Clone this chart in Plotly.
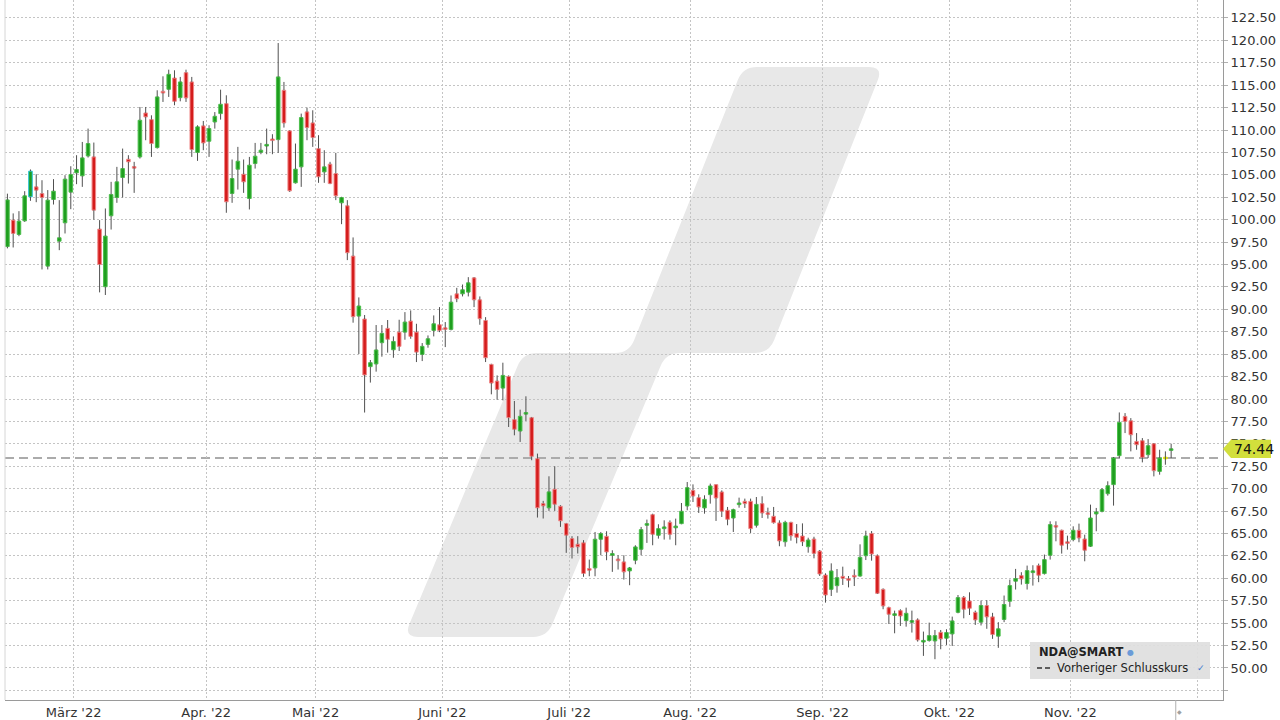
import plotly.graph_objects as go
import pandas as pd

# ---------------- data ----------------
open_ = [97.0, 99.95, 98.35, 99.87, 102.55, 103.66, 102.92, 94.82, 102.25, 97.6,
         99.65, 103.07, 105.22, 104.89, 107.11, 107.0, 98.95, 92.52, 100.43, 102.47,
         104.7, 106.74, 105.89, 107.0, 111.9, 111.16, 108.04, 114.32, 114.54, 115.8,
         113.61, 116.4, 115.36, 107.49, 110.46, 108.75, 110.9, 111.83, 112.94, 102.92,
         105.63, 105.07, 102.36, 106.26, 107.52, 108.23, 109.0, 108.93, 114.43, 109.9,
         104.11, 105.89, 112.02, 110.79, 107.93, 105.33, 106.19, 105.15, 101.88, 101.55,
         95.94, 89.25, 88.92, 83.61, 83.91, 86.28, 87.88, 85.49, 87.46, 87.46,
         88.69, 87.46, 84.97, 86.09, 87.65, 88.28, 87.94, 87.76, 91.73, 91.73,
         91.92, 93.51, 91.06, 88.76, 83.86, 82.0, 81.22, 82.52, 77.7, 76.43,
         78.33, 77.92, 73.35, 68.34, 67.86, 69.94, 68.04, 66.11, 64.44, 63.81,
         63.96, 61.09, 61.16, 64.36, 64.69, 62.57, 62.13, 61.83, 60.83, 62.02,
         63.24, 65.92, 67.1, 64.8, 65.54, 66.25, 65.66, 66.1, 68.07, 69.81,
         69.0, 67.85, 69.33, 70.45, 69.63, 67.59, 66.73, 68.22, 68.59, 68.59,
         65.92, 68.33, 67.29, 66.92, 66.18, 64.08, 66.24, 65.01, 64.72, 63.53,
         64.38, 63.04, 60.37, 58.77, 59.18, 60.22, 59.96, 60.33, 60.26, 62.52,
         65.01, 62.52, 58.77, 56.73, 55.88, 56.4, 55.28, 55.13, 55.36, 52.91,
         53.06, 53.02, 53.98, 53.32, 53.8, 56.21, 57.88, 57.47, 56.21, 55.11,
         56.97, 55.7, 53.55, 55.41, 57.45, 59.68, 60.31, 59.42, 60.64, 61.42,
         60.53, 62.57, 65.88, 65.36, 64.06, 64.32, 65.36, 64.39, 63.58, 67.18,
         67.47, 69.44, 70.45, 73.68, 78.06, 77.57, 75.27, 75.35, 73.79, 75.01,
         71.93, 73.42, 74.27]
high = [102.9, 100.7, 100.95, 103.18, 105.6, 105.07, 104.4, 103.3, 104.52, 102.18,
        104.96, 105.96, 107.19, 108.67, 110.16, 108.6, 99.95, 101.25, 104.22, 105.89,
        107.93, 107.19, 106.45, 112.57, 112.57, 111.64, 114.43, 115.99, 116.73, 116.66,
        115.92, 116.73, 115.92, 110.53, 111.01, 110.53, 112.0, 114.5, 113.87, 106.71,
        108.12, 106.71, 107.0, 108.56, 108.56, 110.16, 109.53, 119.7, 115.36, 109.97,
        108.49, 111.83, 112.5, 112.2, 109.42, 107.75, 106.45, 107.45, 102.55, 102.18,
        98.02, 91.33, 89.37, 84.35, 88.25, 88.25, 88.81, 86.98, 88.84, 89.69,
        89.88, 88.39, 86.24, 87.09, 89.32, 90.25, 88.58, 91.55, 92.4, 92.77,
        93.59, 93.59, 91.44, 89.13, 83.93, 82.63, 84.05, 82.63, 79.78, 78.81,
        80.3, 78.0, 73.91, 68.64, 71.38, 72.5, 68.15, 66.18, 64.7, 64.7,
        64.26, 62.09, 65.17, 65.17, 65.25, 63.13, 62.57, 62.57, 61.27, 63.69,
        65.73, 66.55, 67.21, 66.03, 66.47, 66.47, 66.66, 68.4, 70.74, 70.48,
        69.37, 69.26, 70.56, 70.48, 69.81, 67.96, 67.77, 69.0, 68.89, 68.89,
        69.07, 69.15, 67.88, 67.96, 66.47, 66.42, 66.31, 66.05, 66.13, 64.53,
        64.64, 63.16, 60.56, 61.67, 61.04, 61.3, 60.26, 61.0, 63.79, 65.31,
        65.27, 62.67, 58.88, 56.84, 56.4, 56.55, 56.73, 56.4, 55.54, 54.06,
        55.06, 54.24, 54.24, 54.32, 55.73, 58.14, 58.03, 58.44, 56.4, 57.52,
        57.56, 56.15, 55.11, 58.08, 59.86, 61.05, 60.68, 61.42, 61.46, 61.64,
        62.65, 66.36, 66.36, 65.43, 64.76, 65.8, 66.1, 64.87, 68.22, 67.85,
        70.07, 70.82, 73.53, 78.5, 78.43, 77.87, 76.2, 75.64, 75.53, 75.09,
        74.34, 74.16, 75.01]
low = [96.8, 96.9, 98.16, 99.76, 102.1, 101.95, 94.45, 94.45, 101.69, 96.6,
       98.46, 101.17, 103.96, 103.66, 106.93, 100.0, 91.89, 91.6, 98.9, 101.88,
       102.47, 104.03, 102.99, 106.82, 108.86, 107.0, 107.93, 113.13, 113.69, 112.76,
       113.2, 113.13, 107.0, 106.56, 107.75, 107.0, 110.16, 111.16, 100.77, 101.88,
       103.36, 102.99, 101.14, 105.7, 107.3, 107.3, 107.3, 107.45, 110.27, 103.1,
       104.03, 103.66, 108.86, 108.12, 104.11, 104.11, 103.96, 102.18, 99.5, 95.49,
       88.51, 85.02, 78.49, 81.83, 83.05, 84.72, 85.17, 84.6, 85.35, 86.61,
       86.72, 84.12, 84.23, 85.72, 86.98, 87.46, 85.79, 87.65, 90.8, 91.44,
       91.44, 90.25, 88.28, 84.12, 80.52, 79.92, 79.85, 76.88, 75.95, 75.21,
       77.55, 73.17, 66.78, 66.67, 67.52, 67.52, 65.74, 62.84, 62.21, 62.77,
       60.17, 60.23, 60.23, 62.57, 62.02, 60.72, 60.98, 59.86, 59.23, 61.57,
       62.57, 63.95, 63.69, 64.43, 64.32, 64.32, 63.69, 66.03, 67.59, 68.51,
       67.29, 67.21, 68.33, 66.4, 66.84, 65.92, 65.17, 67.88, 67.85, 65.06,
       65.66, 66.73, 66.66, 66.1, 63.58, 63.53, 64.2, 63.9, 63.6, 62.86,
       62.23, 60.26, 57.29, 58.03, 58.4, 59.26, 58.99, 59.14, 60.18, 62.04,
       61.97, 58.25, 56.55, 54.91, 53.87, 54.69, 54.61, 53.95, 52.94, 51.35,
       52.94, 50.98, 52.09, 52.57, 52.46, 56.1, 55.54, 55.91, 54.8, 54.74,
       54.37, 53.25, 52.25, 55.11, 56.82, 58.75, 59.3, 58.75, 59.19, 59.57,
       60.42, 62.09, 64.13, 62.76, 63.2, 64.13, 64.02, 61.9, 63.5, 65.25,
       67.36, 69.22, 68.11, 73.42, 76.2, 74.16, 74.34, 72.93, 73.42, 71.37,
       71.56, 72.67, 73.42]
close = [102.2, 98.46, 99.84, 102.66, 105.41, 103.29, 102.47, 102.18, 103.18, 97.98,
         104.52, 105.04, 105.6, 106.89, 108.49, 101.06, 95.0, 98.17, 102.81, 104.22,
         105.7, 106.45, 105.78, 111.09, 111.46, 108.49, 113.69, 114.13, 116.21, 113.2,
         115.36, 113.58, 107.82, 110.35, 108.56, 110.16, 111.53, 112.87, 101.99, 104.59,
         106.52, 104.22, 106.08, 107.08, 107.75, 108.38, 108.82, 115.92, 110.79, 103.22,
         105.63, 111.39, 110.27, 109.16, 104.78, 105.89, 104.03, 102.66, 102.47, 96.31,
         89.18, 90.37, 82.68, 84.05, 85.47, 87.32, 86.66, 86.42, 85.87, 88.58,
         86.98, 85.23, 85.87, 86.72, 88.39, 87.65, 87.76, 90.8, 91.18, 92.18,
         92.96, 91.06, 88.95, 84.6, 81.78, 81.07, 82.63, 77.92, 76.62, 78.07,
         78.48, 73.61, 67.86, 68.08, 69.64, 68.26, 66.41, 64.81, 63.44, 63.51,
         60.54, 60.9, 64.36, 64.99, 62.94, 62.76, 61.98, 60.72, 61.16, 63.5,
         65.43, 66.1, 64.91, 65.54, 65.73, 64.91, 65.8, 67.48, 70.11, 69.18,
         67.96, 68.81, 70.3, 68.96, 67.48, 66.58, 67.66, 68.4, 68.33, 65.54,
         68.25, 67.29, 67.14, 66.21, 64.17, 66.24, 64.75, 64.57, 64.08, 64.27,
         62.78, 60.48, 58.14, 60.82, 60.07, 60.0, 59.78, 60.15, 62.34, 64.72,
         62.71, 58.33, 56.92, 55.99, 56.03, 55.8, 56.1, 55.25, 53.13, 53.06,
         53.61, 53.61, 53.24, 53.95, 55.25, 57.85, 56.55, 56.66, 55.36, 56.97,
         55.7, 53.73, 54.37, 57.08, 59.19, 59.97, 59.94, 60.86, 60.83, 60.34,
         62.09, 65.99, 65.73, 63.69, 63.91, 65.36, 64.5, 63.13, 66.73, 67.4,
         69.89, 70.33, 73.42, 77.39, 77.5, 76.01, 74.9, 73.49, 74.79, 72.0,
         73.42, 73.42, 74.44]

first_day = "2022-02-11"
exchange_holidays = ["2022-04-15", "2022-04-18", "2022-12-26"]
month_starts = ["2022-03-01", "2022-04-01", "2022-05-01", "2022-06-01", "2022-07-01",
                "2022-08-01", "2022-09-01", "2022-10-01", "2022-11-01", "2022-12-01"]
month_labels = ["März '22", "Apr. '22", "Mai '22", "Juni '22", "Juli '22",
                "Aug. '22", "Sep. '22", "Okt. '22", "Nov. '22", ""]
y_ticks = [47.5, 50.0, 52.5, 55.0, 57.5, 60.0, 62.5, 65.0, 67.5, 70.0, 72.5, 75.0,
           77.5, 80.0, 82.5, 85.0, 87.5, 90.0, 92.5, 95.0, 97.5, 100.0, 102.5, 105.0,
           107.5, 110.0, 112.5, 115.0, 117.5, 120.0, 122.5]
symbol_name = "NDA@SMART"
prev_close_name = "Vorheriger Schlusskurs"
highlight_candle = 4  # candle drawn with a cyan outline in the reference

# ---------------- calendar / positions ----------------
cal = pd.bdate_range(first_day, "2022-12-30")
cal = cal[~cal.isin(pd.to_datetime(exchange_holidays))]
n = len(close)
xs = list(range(n))
tick_vals = [int((cal < pd.Timestamp(m)).sum()) - 0.5 for m in month_starts]

prev_close = close[-2]
last_close = close[-1]

# ---------------- styles ----------------
GREEN, GREEN_EDGE = "#1e9e1e", "#4cbf4c"
RED, RED_EDGE = "#d41c1c", "#f08a8a"
YELLOW = "#e6e600"
WICK = "#505050"
GRID = "#c4c4c4"
FONT = "DejaVu Sans"

fills, edges, bases, heights = [], [], [], []
for i in range(n):
    o, c = open_[i], close[i]
    if c > o:
        f, e = GREEN, GREEN_EDGE
    elif c < o:
        f, e = RED, RED_EDGE
    else:
        f, e = YELLOW, YELLOW
    if i == highlight_candle:
        e = "#29c4d6"
    fills.append(f)
    edges.append(e)
    lo, hi = min(o, c), max(o, c)
    h = max(hi - lo, 0.18)
    bases.append((lo + hi) / 2 - h / 2)
    heights.append(h)

wx, wy = [], []
for i in range(n):
    top = max(open_[i], close[i])
    bot = min(open_[i], close[i])
    wx += [i, i, None, i, i, None]
    wy += [high[i], top, None, bot, low[i], None]

fig = go.Figure()
fig.add_trace(go.Scatter(x=wx, y=wy, mode="lines", line=dict(color=WICK, width=1),
                         hoverinfo="skip", showlegend=False))
fig.add_trace(go.Bar(x=xs, y=heights, base=bases, width=0.62,
                     marker=dict(color=fills, line=dict(color=edges, width=1)),
                     hoverinfo="skip", showlegend=False))

# ---------------- decorations ----------------
L_PX, R_PX, B_PX = 5, 1223, 700
PW = R_PX - L_PX


def px_x(px):
    return (px - L_PX) / PW


def px_y(py):
    return 1 - py / B_PX


def rounded_path(pts, r=12):
    import math
    segs = []
    m = len(pts)
    for k in range(m):
        p0 = pts[k - 1]
        p1 = pts[k]
        p2 = pts[(k + 1) % m]
        d1 = math.hypot(p1[0] - p0[0], p1[1] - p0[1])
        d2 = math.hypot(p2[0] - p1[0], p2[1] - p1[1])
        rr = min(r, d1 / 2, d2 / 2)
        a = (p1[0] + (p0[0] - p1[0]) * rr / d1, p1[1] + (p0[1] - p1[1]) * rr / d1)
        b = (p1[0] + (p2[0] - p1[0]) * rr / d2, p1[1] + (p2[1] - p1[1]) * rr / d2)
        segs.append((a, p1, b))
    path = "M %.5f,%.5f " % (px_x(segs[0][0][0]), px_y(segs[0][0][1]))
    for k, (a, c, b) in enumerate(segs):
        if k > 0:
            path += "L %.5f,%.5f " % (px_x(a[0]), px_y(a[1]))
        path += "Q %.5f,%.5f %.5f,%.5f " % (px_x(c[0]), px_y(c[1]), px_x(b[0]), px_y(b[1]))
    return path + "Z"


logo_pts = [(743, 67), (883, 67), (769, 353), (666, 353), (547, 637),
            (404, 637), (523, 353), (629, 353)]
shapes = [
    dict(type="path", xref="paper", yref="paper", path=rounded_path(logo_pts, 14),
         fillcolor="#e8e8e8", line=dict(width=0), layer="below"),
    dict(type="line", xref="paper", yref="y", x0=0, x1=1, y0=prev_close, y1=prev_close,
         line=dict(color="#ababab", width=2, dash="9px,5px"), layer="between"),
    dict(type="line", xref="paper", yref="paper", x0=0, x1=0, y0=0, y1=1,
         line=dict(color="#d6d6d6", width=1)),
    dict(type="line", xref="x", yref="paper", x0=n - 0.2, x1=n - 0.2, y0=0, y1=-0.03,
         line=dict(color="#b0b0b0", width=1)),
    # price label (arrow box)
    dict(type="path", xref="paper", yref="y", layer="above",
         path="M 1.0,%f L %f,%f L %f,%f L %f,%f L %f,%f Z" % (
             last_close, px_x(1231), last_close + 1.02, px_x(1271), last_close + 1.02,
             px_x(1271), last_close - 1.02, px_x(1231), last_close - 1.02),
         fillcolor="#d2df3c", line=dict(width=0)),
    # legend box
    dict(type="rect", xref="paper", yref="paper", x0=px_x(1030), x1=px_x(1210),
         y0=px_y(679), y1=px_y(642), fillcolor="rgba(222,222,222,0.92)",
         line=dict(width=0), layer="above"),
    dict(type="line", xref="paper", yref="paper", x0=px_x(1037), x1=px_x(1052),
         y0=px_y(668), y1=px_y(668), line=dict(color="#333", width=1.5, dash="5px,3px"),
         layer="above"),
]

annotations = [
    dict(xref="paper", yref="y", x=px_x(1232), y=last_close, text="%.2f" % last_close,
         showarrow=False, xanchor="left", yanchor="middle",
         font=dict(family=FONT, size=14, color="#111")),
    dict(xref="paper", yref="paper", x=px_x(1037), y=px_y(652), text="<b>%s</b>" % symbol_name,
         showarrow=False, xanchor="left", yanchor="middle",
         font=dict(family=FONT, size=11.5, color="#222")),
    dict(xref="paper", yref="paper", x=px_x(1125), y=px_y(652), text="●",
         showarrow=False, xanchor="left", yanchor="middle",
         font=dict(family=FONT, size=8, color="#6a9bd8")),
    dict(xref="paper", yref="paper", x=px_x(1055), y=px_y(668), text=prev_close_name,
         showarrow=False, xanchor="left", yanchor="middle",
         font=dict(family=FONT, size=11.5, color="#222")),
    dict(xref="paper", yref="paper", x=px_x(1195), y=px_y(668), text="✓",
         showarrow=False, xanchor="left", yanchor="middle",
         font=dict(family=FONT, size=9, color="#3a78d0")),
    dict(xref="x", yref="paper", x=n + 0.5, y=px_y(711), text="◆",
         showarrow=False, xanchor="center", yanchor="middle",
         font=dict(family=FONT, size=6, color="#a0a0a0")),
]

fig.update_layout(
    width=1280, height=720,
    margin=dict(l=L_PX, r=1280 - R_PX, t=0, b=720 - B_PX),
    plot_bgcolor="white", paper_bgcolor="white",
    font=dict(family=FONT, size=13, color="#333"),
    showlegend=False, hovermode=False,
    shapes=shapes, annotations=annotations,
    xaxis=dict(range=[-0.42, 211.0], tickmode="array", tickvals=tick_vals,
               ticktext=month_labels, showgrid=True, gridcolor=GRID, griddash="2px,2px",
               gridwidth=1, showline=True, linecolor="#9a9a9a", linewidth=1,
               ticks="", zeroline=False, fixedrange=True),
    yaxis=dict(side="right", range=[46.43, 124.5], tickmode="array", tickvals=y_ticks,
               ticktext=["" if v < 50 else "%.2f" % v for v in y_ticks],
               showgrid=True, gridcolor=GRID, griddash="2px,2px", gridwidth=1,
               showline=True, linecolor="#9a9a9a", linewidth=1,
               ticks="outside", ticklen=4, tickcolor="#b0b0b0",
               zeroline=False, fixedrange=True),
)

fig.write_html("out.html", config={"displayModeBar": False},
               post_script="document.body.style.margin='0';document.body.style.overflow='hidden';")
